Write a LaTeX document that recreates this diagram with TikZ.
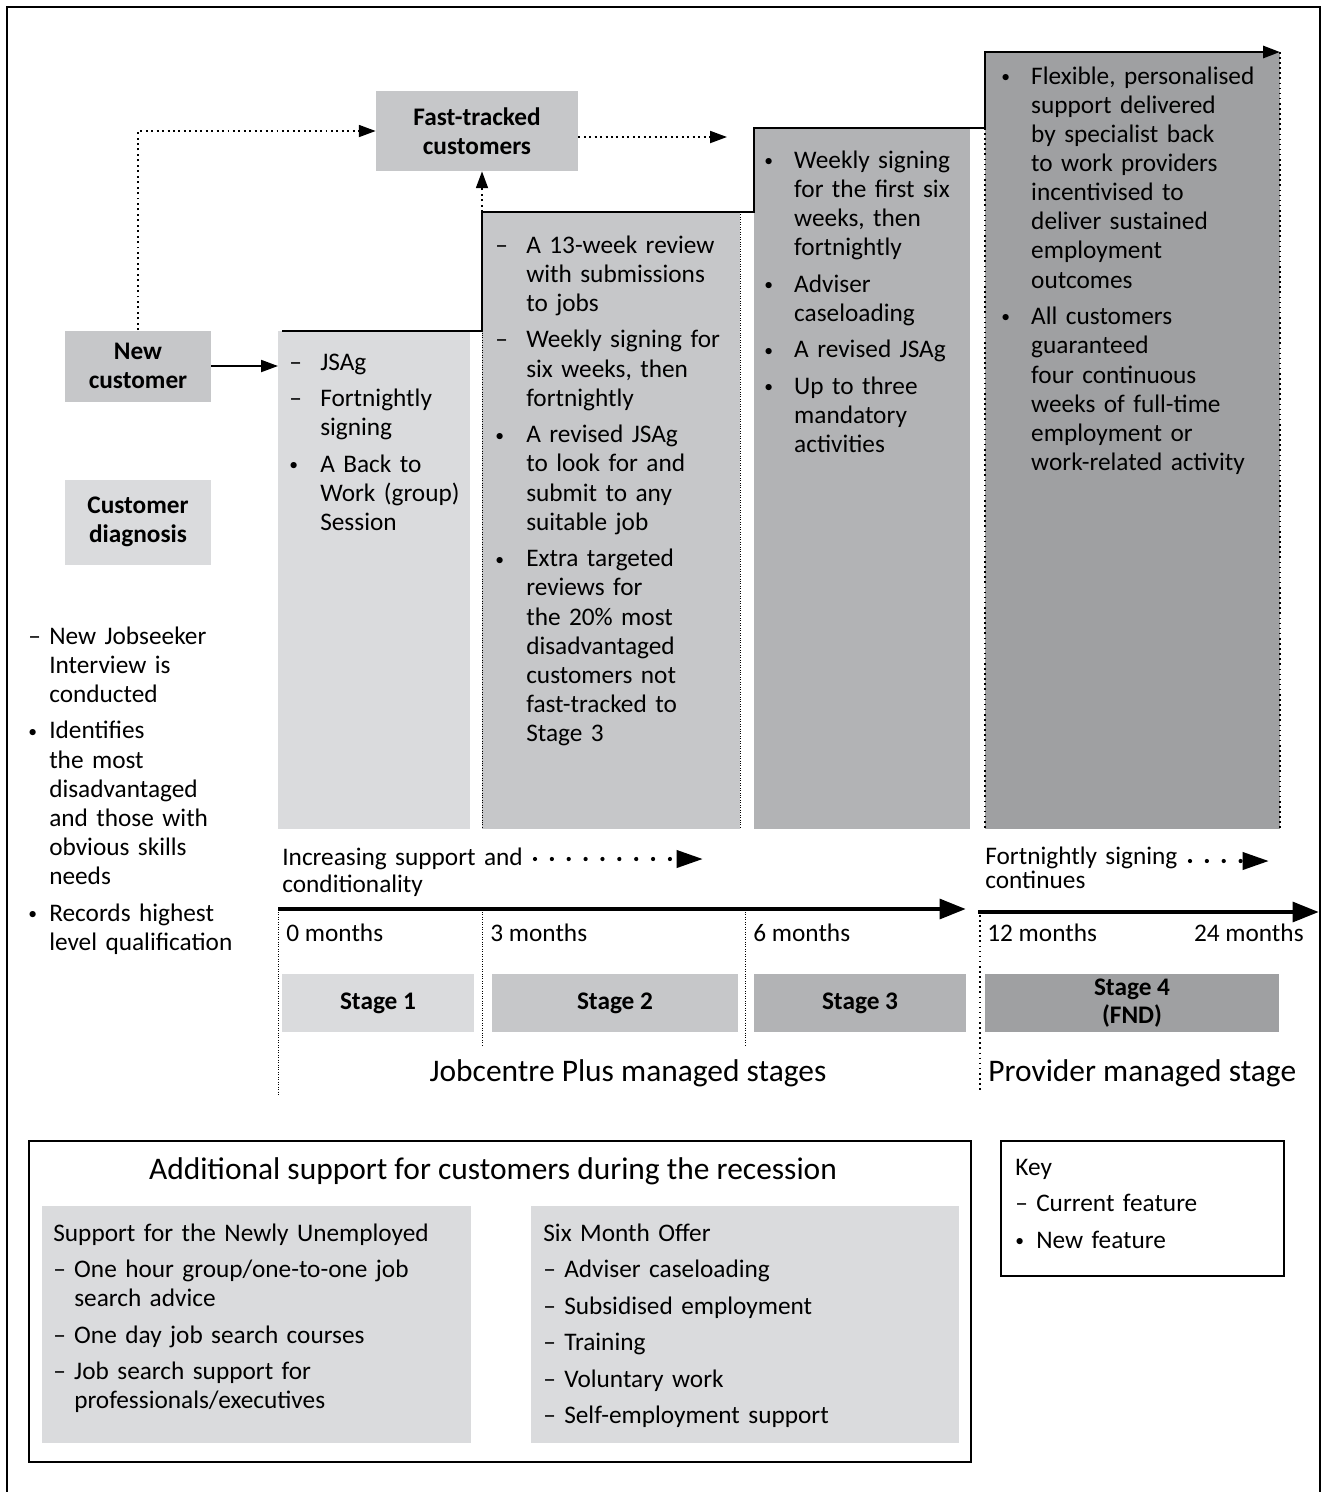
\documentclass[tikz,border=0pt]{standalone}
\usepackage{fontspec}
\setmainfont{Carlito}
\usetikzlibrary{arrows.meta,positioning,calc}
\definecolor{greyA}{HTML}{DADBDD}
\definecolor{greyB}{HTML}{C6C7C9}
\definecolor{greyC}{HTML}{B2B3B5}
\definecolor{greyD}{HTML}{9FA0A2}
\newcommand{\bodyfont}{\fontsize{14.4}{16.6}\selectfont}
\newcommand{\bigfont}{\fontsize{17.9}{21}\selectfont}
\newlength{\mkind}
\newcommand{\mitem}[2]{\hangindent=\mkind\hangafter=1\noindent\makebox[\mkind][l]{#1}#2\par}
\newcommand{\ditem}[1]{\mitem{–}{#1}}
\newcommand{\bitem}[1]{\mitem{\raisebox{1pt}{\fontsize{10}{10}\selectfont•}}{#1}}
\newcommand{\isep}{\par\vspace{4.2pt}}
\tikzset{box/.style={fill=greyB,align=center,font=\bodyfont\bfseries,inner sep=0pt},
 stagebox/.style={box,minimum height=1.16cm},
 itemlist/.style={anchor=base west,align=left,inner sep=0pt,text width=10cm,font=\bodyfont,
  execute at begin node={\setlength{\mkind}{#1}}},
 label/.style={anchor=base west,inner sep=0pt,font=\bodyfont},
 flow/.style={-{Triangle[length=9.6pt,width=6.8pt]},line width=1.1pt},
 dotflow/.style={flow,dotted},
 steps/.style={-{Triangle[length=9.6pt,width=6.8pt]},line width=1.6pt},
 axis/.style={-{Triangle[length=15pt,width=11pt]},line width=2.8pt},
 dotaxis/.style={-{Triangle[length=15pt,width=9.6pt]},line width=2.4pt,line cap=round,dash pattern=on 0pt off 9.6pt},
 guide/.style={thin,densely dotted}}
\begin{document}
\begin{tikzpicture}[x=0.02cm,y=-0.02cm]
\useasboundingbox (0,0) rectangle (1324,1492);
% frame, open at the bottom
\draw[line width=1.5pt] (7,1492) -- (7,7) -- (1320,7) -- (1320,1492);

% stage columns
\coordinate (c1) at (278,331);
\coordinate (c2) at (482,212);
\coordinate (c3) at (754,128);
\coordinate (c4) at (985,52);
\fill[greyA] (c1) rectangle (470,829);
\fill[greyB] (c2) rectangle (740,829);
\fill[greyC] (c3) rectangle (970,829);
\fill[greyD] (c4) rectangle (1280,829);
\draw[guide] (c2) -- (482,829) (740,212) -- (740,829);
\draw[line width=0.9pt,dotted] (985,128) -- (985,829) (1280,52) -- (1280,829);
\draw[steps] (282,331) -| (c2) -| (c3) -| (c4) -- (1280,52);

% customer boxes
\node[box,minimum width=2.92cm,minimum height=1.42cm] (newcust) at (138,366) {New\\customer};
\node[box,fill=greyA,minimum width=2.92cm,minimum height=1.7cm] (diag) at (138,522) {Customer\\diagnosis};
\node[box,minimum width=4.04cm,minimum height=1.6cm] (fast) at (477,131) {Fast-tracked\\customers};
\coordinate (ftgoal) at (727,137);
\draw[flow] (newcust.east) -- (newcust.east -| c1);
\draw[dotflow] (newcust.north) |- (fast.west);
\draw[dotflow] (fast.east |- ftgoal) -- (ftgoal);
\draw[dotflow] (c2) -- (c2 |- fast.south);

% column texts
\node[itemlist=17.6pt] (s1list) at (289,370)
 {\ditem{JSAg}\isep\ditem{Fortnightly\newline signing}\isep
  \bitem{A Back to\newline Work (group)\newline Session}};
\node[itemlist=17.6pt] (s2list) at (495,253)
 {\ditem{A 13-week review\newline with submissions\newline to jobs}\isep
  \ditem{Weekly signing for\newline six weeks, then\newline fortnightly}\isep
  \bitem{A revised JSAg\newline to look for and\newline submit to any\newline suitable job}\isep
  \bitem{Extra targeted\newline reviews for\newline the 20\% most\newline disadvantaged\newline customers not\newline fast-tracked to\newline Stage 3}};
\node[itemlist=17pt] (s3list) at (764,168)
 {\bitem{Weekly signing\newline for the first six\newline weeks, then\newline fortnightly}\isep
  \bitem{Adviser\newline caseloading}\isep\bitem{A revised JSAg}\isep
  \bitem{Up to three\newline mandatory\newline activities}};
\node[itemlist=17pt] (s4list) at (1001,84)
 {\bitem{Flexible, personalised\newline support delivered\newline by specialist back\newline to work providers\newline incentivised to\newline deliver sustained\newline employment\newline outcomes}\isep
  \bitem{All customers\newline guaranteed\newline four continuous\newline weeks of full-time\newline employment or\newline work-related activity}};
\node[itemlist=11.9pt] (diaglist) at (28,644)
 {\ditem{New Jobseeker\newline Interview is\newline conducted}\isep
  \bitem{Identifies\newline the most\newline disadvantaged\newline and those with\newline obvious skills\newline needs}\isep
  \bitem{Records highest\newline level qualification}};

% time line
\node[label,text width=8cm,align=left,font=\fontsize{14.4}{15.9}\selectfont] (incr) at (282,865) {Increasing support and\\conditionality};
\draw[dotaxis] (535,859) -- (703,859);
\node[label,text width=8cm,align=left,font=\fontsize{14.4}{14.2}\selectfont] (fort) at (985,864) {Fortnightly signing\\continues};
\draw[dotaxis] (1190,861) -- (1269,861);
\draw[axis] (278,909) -- (966,909);
\draw[axis] (978,912) -- (1319,912);
\draw[guide] (278,912) -- (278,1095);
\draw[guide] (482,912) -- (482,1045);
\draw[guide] (745,912) -- (745,1045);
\draw[line width=0.9pt,dotted] (980,915) -- (980,1093);
\node[label] (m0) at (286,941) {0 months};
\node[label] (m3) at (490,941) {3 months};
\node[label] (m6) at (753,941) {6 months};
\node[label] (m12) at (987,941) {12 months};
\node[label,anchor=base east] (m24) at (1304,941) {24 months};

% stages
\node[stagebox,fill=greyA,minimum width=3.84cm] (st1) at (378,1003) {Stage 1};
\node[stagebox,minimum width=4.92cm] (st2) at (615,1003) {Stage 2};
\node[stagebox,fill=greyC,minimum width=4.24cm] (st3) at (860,1003) {Stage 3};
\node[stagebox,fill=greyD,minimum width=5.9cm] (st4) at (1132,1003) {Stage 4\\[-1pt](FND)};
\node[label,font=\bigfont,anchor=base] (jcp) at (628,1081) {Jobcentre Plus managed stages};
\node[label,font=\bigfont] (prov) at (988,1081) {Provider managed stage};

% recession support
\draw[line width=0.8pt] (29,1141) rectangle (971,1462);
\node[label,font=\bigfont,anchor=base] (addtitle) at (493,1179) {Additional support for customers during the recession};
\fill[greyA] (42,1206) rectangle (471,1443);
\fill[greyA] (531,1206) rectangle (959,1443);
\node[itemlist=11.9pt] (snu) at (53,1241)
 {Support for the Newly Unemployed\isep
  \ditem{One hour group/one-to-one job\newline search advice}\isep
  \ditem{One day job search courses}\isep
  \ditem{Job search support for\newline professionals/executives}};
\node[itemlist=11.9pt] (smo) at (543,1241)
 {Six Month Offer\isep
  \ditem{Adviser caseloading}\isep\ditem{Subsidised employment}\isep
  \ditem{Training}\isep\ditem{Voluntary work}\isep\ditem{Self-employment support}};

% key
\draw[line width=0.8pt] (1001,1141) rectangle (1284,1276);
\node[itemlist=11.9pt] (key) at (1015,1175)
 {Key\isep\ditem{Current feature}\isep\bitem{New feature}};
\end{tikzpicture}
\end{document}
